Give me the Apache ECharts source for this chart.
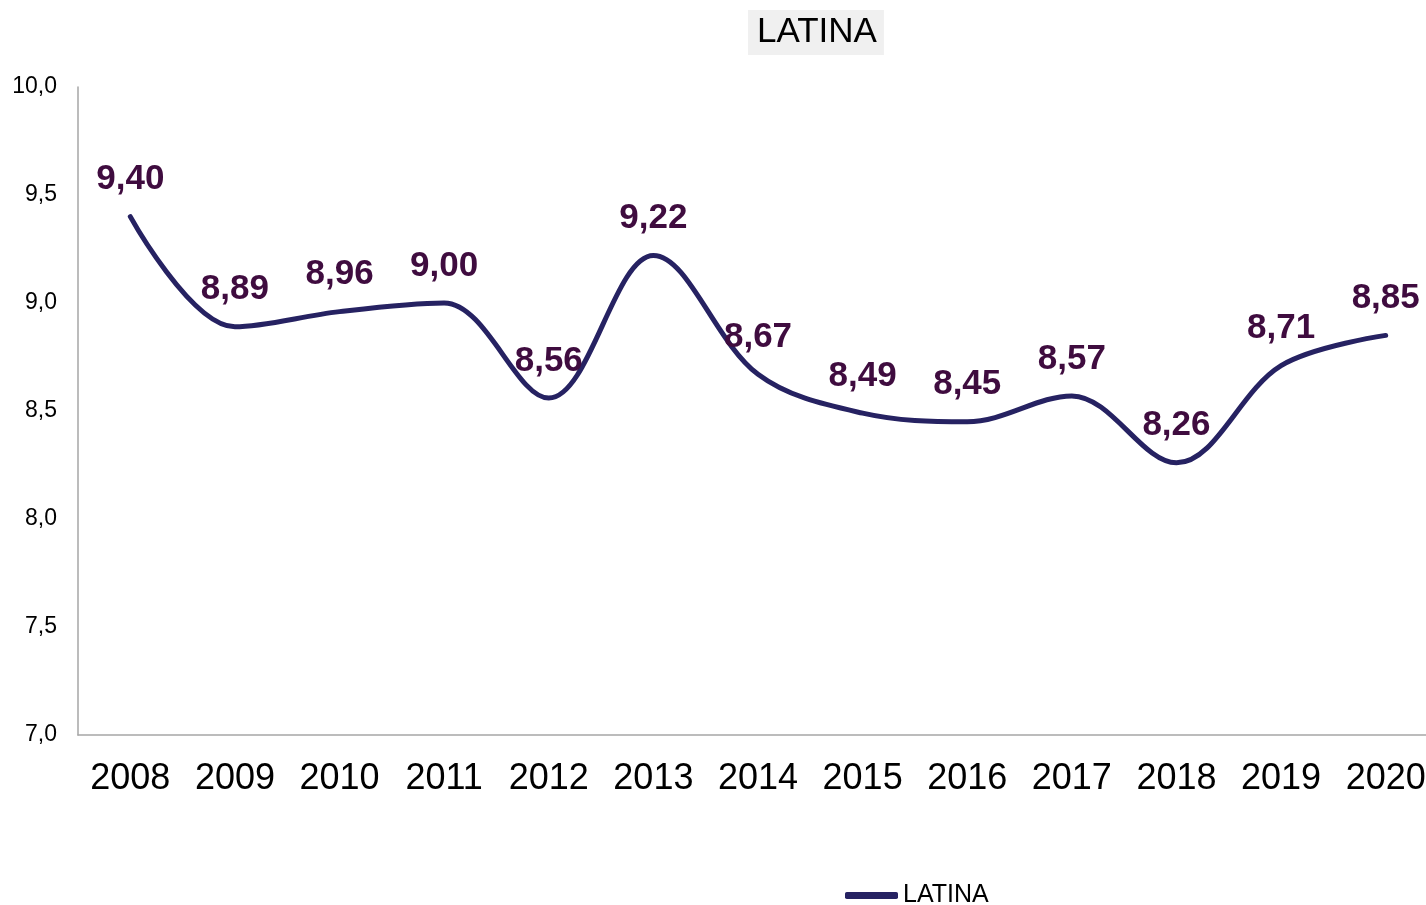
<!DOCTYPE html>
<html>
<head>
<meta charset="utf-8">
<script src="https://cdn.jsdelivr.net/npm/echarts@6/dist/echarts.min.js"></script>
<style>
  html, body { margin: 0; padding: 0; background: #ffffff; }
  #chart { width: 1426px; height: 905px; }
</style>
</head>
<body>
<div id="chart"></div>
<script>
const years = ['2008', '2009', '2010', '2011', '2012', '2013', '2014', '2015', '2016', '2017', '2018', '2019', '2020']
const latina = [9.40, 8.89, 8.96, 9.00, 8.56, 9.22, 8.67, 8.49, 8.45, 8.57, 8.26, 8.71, 8.85]

const fmt = (v, d) => v.toFixed(d).replace('.', ',')

const chart = echarts.init(document.getElementById('chart'), null, { renderer: 'canvas' })

chart.setOption({
  animation: false,
  textStyle: { fontFamily: '"Liberation Sans", Arial, sans-serif' },
  title: {
    text: 'LATINA',
    left: 748,
    top: 10,
    padding: [5, 7, 5, 9],
    backgroundColor: '#f0f0f0',
    textStyle: { color: '#000000', fontSize: 35, fontWeight: 'normal', fontFamily: '"Liberation Sans", Arial, sans-serif' }
  },
  legend: {
    left: 840,
    top: 878,
    icon: 'roundRect',
    itemWidth: 53,
    itemHeight: 7,
    itemGap: 5,
    textStyle: { color: '#000000', fontSize: 25 },
    data: ['LATINA']
  },
  grid: { left: 78, right: -12, top: 87, bottom: 170, containLabel: false, outerBoundsMode: 'none' },
  xAxis: {
    type: 'category',
    data: years,
    boundaryGap: true,
    axisLine: { lineStyle: { color: '#a6a6a6', width: 1.5 } },
    axisTick: { show: false },
    axisLabel: { color: '#000000', fontSize: 36, margin: 26, interval: 0 }
  },
  yAxis: {
    type: 'value',
    min: 7,
    max: 10,
    interval: 0.5,
    axisLine: { show: true, lineStyle: { color: '#a6a6a6', width: 1.5 } },
    axisTick: { show: false },
    splitLine: { show: false },
    axisLabel: { color: '#000000', fontSize: 23, margin: 21, formatter: (v) => fmt(v, 1) }
  },
  series: [
    {
      name: 'LATINA',
      type: 'line',
      data: latina,
      smooth: 0.35,
      symbol: 'circle',
      symbolSize: 1,
      showSymbol: true,
      lineStyle: { width: 5, color: '#262262', cap: 'round' },
      itemStyle: { color: '#262262' },
      label: {
        show: true,
        position: 'top',
        distance: 19,
        color: '#3f0c3f',
        fontSize: 35,
        fontWeight: 'bold',
        formatter: (p) => fmt(p.value, 2)
      }
    }
  ]
})
</script>
</body>
</html>
